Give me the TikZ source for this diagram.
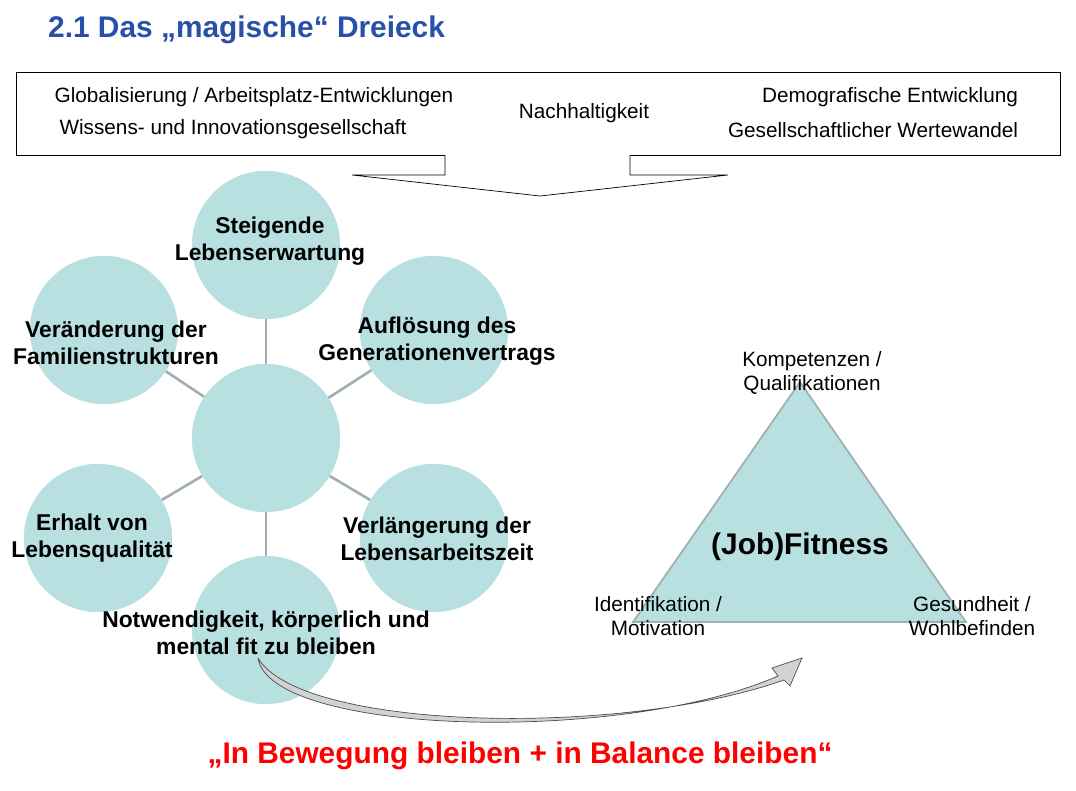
\documentclass[tikz,border=0pt]{standalone}
\usepackage{fontspec}
\setmainfont{Liberation Sans}
\usetikzlibrary{positioning}
\definecolor{titleblue}{RGB}{40,80,170}
\definecolor{teal}{RGB}{184,224,224}
\definecolor{gline}{RGB}{160,175,175}
\tikzset{
  bubble/.style={circle, fill=teal, minimum size=2.96cm, inner sep=0pt},
  blabel/.style={font=\bfseries\fontsize{13}{15}\selectfont, align=center},
  tlabel/.style={font=\fontsize{11.8}{14}\selectfont},
  spoke/.style={gline, line width=1.5pt}
}
\begin{document}
\begin{tikzpicture}[x=0.02cm, y=-0.02cm]
\useasboundingbox (0,0) rectangle (1076,791);
\node[font=\bfseries\fontsize{17}{20}\selectfont, text=titleblue, anchor=west] (title) at (42,30) {2.1 Das „magische“ Dreieck};
% top box with arrow
\draw (445,155) -- (16,155) -- (16,72) -- (1060,72) -- (1060,155) -- (630,155);
\draw (445,155) -- (445,175) -- (352,175) -- (540,196) -- (728,175) -- (630,175) -- (630,155);
\node[tlabel] (glob) at (254,97) {Globalisierung / Arbeitsplatz-Entwicklungen};
\node[tlabel] (wiss) at (233,129) {Wissens- und Innovationsgesellschaft};
\node[tlabel] (nach) at (584,113) {Nachhaltigkeit};
\node[tlabel] (demo) at (890,97) {Demografische Entwicklung};
\node[tlabel] (gese) at (873,130) {Gesellschaftlicher Wertewandel};
% bubbles
\node[bubble] (mid) at (266,438) {};
\node[bubble] (top) at (266,245) {};
\node[bubble] (ul) at (104,330) {};
\node[bubble] (ur) at (434,330) {};
\node[bubble] (ll) at (98,538) {};
\node[bubble] (lr) at (434,538) {};
\node[bubble] (bot) at (266,630) {};
\foreach \n in {top,ul,ur,ll,lr,bot}
  \draw[spoke] (mid) -- (\n);
\foreach \n in {mid,top,ul,ur,ll,lr,bot}
  \node[bubble] at (\n) {};
\node[blabel] at (270,241) {Steigende\\Lebenserwartung};
\node[blabel] at (116,343) {Veränderung der\\Familienstrukturen};
\node[blabel] at (437,341) {Auflösung des\\Generationenvertrags};
\node[blabel] at (92,538) {Erhalt von\\Lebensqualität};
\node[blabel] at (437,539) {Verlängerung der\\Lebensarbeitszeit};
\node[blabel] at (266,633) {Notwendigkeit, körperlich und\\mental fit zu bleiben};
% triangle
\coordinate (apex) at (800,382);
\coordinate (bl) at (633,622);
\coordinate (br) at (966,622);
\draw[fill=teal, draw=gline, line width=1pt] (apex) -- (br) -- (bl) -- cycle;
\node[font=\bfseries\fontsize{17}{20}\selectfont] (fit) at (800,547) {(Job)Fitness};
\node[tlabel, align=center] (komp) at (812,373) {Kompetenzen /\\Qualifikationen};
\node[tlabel, align=center] (iden) at (658,616) {Identifikation /\\Motivation};
\node[tlabel, align=center] (gesu) at (972,616) {Gesundheit /\\Wohlbefinden};
% curved arrow
\coordinate (start) at (258,658);
\draw[fill=gray!35, draw=black!70] (start) .. controls (270,735) and (620,745) .. (778,676)
  -- (772,668) -- (802,658) -- (790,686) -- (784,680)
  .. controls (620,738) and (300,730) .. (start);
\node[font=\bfseries\fontsize{17}{20}\selectfont, text=red] (motto) at (520,756) {„In Bewegung bleiben + in Balance bleiben“};
\end{tikzpicture}
\end{document}
